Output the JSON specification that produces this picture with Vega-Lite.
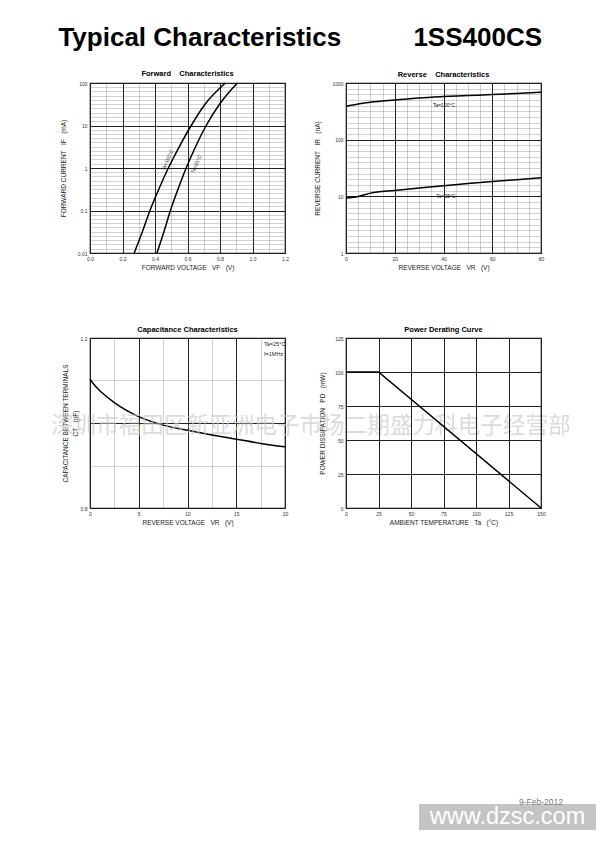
{
  "$schema": "https://vega.github.io/schema/vega-lite/v6.json",
  "padding": {"left": 50, "top": 25, "right": 5, "bottom": 5},
  "background": "white",
  "title": {
    "text": "Typical Characteristics\u00a0\u00a0\u00a0\u00a0\u00a0\u00a0\u00a0\u00a0\u00a0\u00a01SS400CS",
    "fontSize": 26, "fontWeight": "bold", "font": "Liberation Sans", "color": "black",
    "anchor": "start", "frame": "bounds", "dx": 8, "offset": 17.5
  },
  "spacing": 270,
  "vconcat": [
    {
      "columns": 2,
      "spacing": {"row": 85, "column": 61},
      "bounds": "flush",
      "concat": [
        {
          "width": 195, "height": 170,
          "title": {"text": "Forward\u00a0\u00a0\u00a0\u00a0Characteristics", "fontSize": 7.5, "fontWeight": "bold", "offset": 3, "color": "black"},
          "layer": [
            {
              "data": {"values": [
                {"t": "100", "v": 0.272, "i": 0.01}, {"t": "100", "v": 0.32, "i": 0.03}, {"t": "100", "v": 0.369, "i": 0.1},
                {"t": "100", "v": 0.424, "i": 0.32}, {"t": "100", "v": 0.482, "i": 1}, {"t": "100", "v": 0.55, "i": 3.2},
                {"t": "100", "v": 0.623, "i": 10}, {"t": "100", "v": 0.709, "i": 32}, {"t": "100", "v": 0.833, "i": 100},
                {"t": "25", "v": 0.412, "i": 0.01}, {"t": "25", "v": 0.453, "i": 0.03}, {"t": "25", "v": 0.495, "i": 0.1},
                {"t": "25", "v": 0.542, "i": 0.32}, {"t": "25", "v": 0.592, "i": 1}, {"t": "25", "v": 0.65, "i": 3.2},
                {"t": "25", "v": 0.715, "i": 10}, {"t": "25", "v": 0.798, "i": 32}, {"t": "25", "v": 0.907, "i": 100}
              ]},
              "mark": {"type": "line", "interpolate": "monotone", "color": "black", "strokeWidth": 1.5},
              "encoding": {
                "x": {"field": "v", "type": "quantitative", "scale": {"domain": [0, 1.2], "nice": false, "zero": false},
                  "axis": {"title": "FORWARD VOLTAGE\u00a0\u00a0\u00a0VF\u00a0\u00a0\u00a0(V)", "labelOverlap": false, "tickCount": 100,
                    "values": [0, 0.1, 0.2, 0.3, 0.4, 0.5, 0.6, 0.7, 0.8, 0.9, 1.0, 1.1, 1.2],
                    "labelExpr": "abs(datum.value*5 - round(datum.value*5)) < 0.001 ? format(datum.value, '.1f') : ''",
                    "gridDash": {"condition": {"test": "abs(datum.value*5 - round(datum.value*5)) < 0.001", "value": []}, "value": [1, 1]},
                    "gridColor": {"condition": {"test": "abs(datum.value*5 - round(datum.value*5)) < 0.001", "value": "#222"}, "value": "#666"},
                    "gridWidth": {"condition": {"test": "abs(datum.value*5 - round(datum.value*5)) < 0.001", "value": 1}, "value": 0.6}}},
                "y": {"field": "i", "type": "quantitative", "scale": {"type": "log", "domain": [0.01, 100], "nice": false},
                  "axis": {"title": "FORWARD CURRENT\u00a0\u00a0\u00a0IF\u00a0\u00a0\u00a0(mA)", "titlePadding": 11, "labelOverlap": false,
                    "values": [0.01, 0.012589, 0.015849, 0.019953, 0.025119, 0.031623, 0.039811, 0.050119, 0.063096, 0.079433,
                      0.1, 0.12589, 0.15849, 0.19953, 0.25119, 0.31623, 0.39811, 0.50119, 0.63096, 0.79433,
                      1, 1.2589, 1.5849, 1.9953, 2.5119, 3.1623, 3.9811, 5.0119, 6.3096, 7.9433,
                      10, 12.589, 15.849, 19.953, 25.119, 31.623, 39.811, 50.119, 63.096, 79.433, 100],
                    "labelExpr": "abs(log(datum.value)/LN10 - round(log(datum.value)/LN10)) < 0.001 ? format(datum.value, '~g') : ''",
                    "gridDash": {"condition": {"test": "abs(log(datum.value)/LN10 - round(log(datum.value)/LN10)) < 0.001", "value": []}, "value": [1, 1]},
                    "gridColor": {"condition": {"test": "abs(log(datum.value)/LN10 - round(log(datum.value)/LN10)) < 0.001", "value": "#222"}, "value": "#666"},
                    "gridWidth": {"condition": {"test": "abs(log(datum.value)/LN10 - round(log(datum.value)/LN10)) < 0.001", "value": 1}, "value": 0.6}}},
                "detail": {"field": "t"}
              }
            },
            {
              "data": {"values": [
                {"label": "Ta=100\u00b0C", "v": 0.474, "i": 1.54},
                {"label": "Ta=25\u00b0C", "v": 0.652, "i": 1.24}
              ]},
              "mark": {"type": "text", "angle": -65, "fontSize": 5, "color": "#222"},
              "encoding": {
                "x": {"field": "v", "type": "quantitative"},
                "y": {"field": "i", "type": "quantitative"},
                "text": {"field": "label"}
              }
            }
          ]
        },
        {
          "width": 195, "height": 170,
          "title": {"text": "Reverse\u00a0\u00a0\u00a0\u00a0Characteristics", "fontSize": 7.5, "fontWeight": "bold", "offset": 3, "color": "black"},
          "layer": [
            {
              "data": {"values": [
                {"t": "100", "v": 0, "i": 388}, {"t": "100", "v": 5, "i": 425}, {"t": "100", "v": 10, "i": 457},
                {"t": "100", "v": 20, "i": 502}, {"t": "100", "v": 30, "i": 545}, {"t": "100", "v": 40, "i": 575},
                {"t": "100", "v": 50, "i": 600}, {"t": "100", "v": 60, "i": 624}, {"t": "100", "v": 70, "i": 655},
                {"t": "100", "v": 80, "i": 685},
                {"t": "25", "v": 0, "i": 9.3}, {"t": "25", "v": 5, "i": 9.9}, {"t": "25", "v": 10, "i": 11.4},
                {"t": "25", "v": 20, "i": 12.7}, {"t": "25", "v": 30, "i": 14.0}, {"t": "25", "v": 40, "i": 15.3},
                {"t": "25", "v": 50, "i": 16.8}, {"t": "25", "v": 60, "i": 18.3}, {"t": "25", "v": 70, "i": 19.7},
                {"t": "25", "v": 80, "i": 21.2}
              ]},
              "mark": {"type": "line", "interpolate": "monotone", "color": "black", "strokeWidth": 1.5},
              "encoding": {
                "x": {"field": "v", "type": "quantitative", "scale": {"domain": [0, 80], "nice": false, "zero": false},
                  "axis": {"title": "REVERSE VOLTAGE\u00a0\u00a0\u00a0VR\u00a0\u00a0\u00a0(V)", "labelOverlap": false, "tickCount": 100,
                    "values": [0, 5, 10, 15, 20, 25, 30, 35, 40, 45, 50, 55, 60, 65, 70, 75, 80],
                    "labelExpr": "datum.value % 20 === 0 ? format(datum.value, 'd') : ''",
                    "gridDash": {"condition": {"test": "datum.value % 20 === 0", "value": []}, "value": [1, 1]},
                    "gridColor": {"condition": {"test": "datum.value % 20 === 0", "value": "#222"}, "value": "#666"},
                    "gridWidth": {"condition": {"test": "datum.value % 20 === 0", "value": 1}, "value": 0.6}}},
                "y": {"field": "i", "type": "quantitative", "scale": {"type": "log", "domain": [1, 1000], "nice": false},
                  "axis": {"title": "REVERSE CURRENT\u00a0\u00a0\u00a0IR\u00a0\u00a0\u00a0(nA)", "titlePadding": 11, "labelOverlap": false,
                    "values": [1, 1.2589, 1.5849, 1.9953, 2.5119, 3.1623, 3.9811, 5.0119, 6.3096, 7.9433,
                      10, 12.589, 15.849, 19.953, 25.119, 31.623, 39.811, 50.119, 63.096, 79.433,
                      100, 125.89, 158.49, 199.53, 251.19, 316.23, 398.11, 501.19, 630.96, 794.33, 1000],
                    "labelExpr": "abs(log(datum.value)/LN10 - round(log(datum.value)/LN10)) < 0.001 ? format(datum.value, '~g') : ''",
                    "gridDash": {"condition": {"test": "abs(log(datum.value)/LN10 - round(log(datum.value)/LN10)) < 0.001", "value": []}, "value": [1, 1]},
                    "gridColor": {"condition": {"test": "abs(log(datum.value)/LN10 - round(log(datum.value)/LN10)) < 0.001", "value": "#222"}, "value": "#666"},
                    "gridWidth": {"condition": {"test": "abs(log(datum.value)/LN10 - round(log(datum.value)/LN10)) < 0.001", "value": 1}, "value": 0.6}}},
                "detail": {"field": "t"}
              }
            },
            {
              "data": {"values": [
                {"label": "Ta=100\u00b0C", "v": 40.2, "i": 409},
                {"label": "Ta=25\u00b0C", "v": 41, "i": 10.1}
              ]},
              "mark": {"type": "text", "fontSize": 5, "color": "#222"},
              "encoding": {
                "x": {"field": "v", "type": "quantitative"},
                "y": {"field": "i", "type": "quantitative"},
                "text": {"field": "label"}
              }
            }
          ]
        },
        {
          "width": 195, "height": 170,
          "title": {"text": "Capacitance Characteristics", "fontSize": 7.5, "fontWeight": "bold", "offset": 3, "color": "black"},
          "layer": [
            {
              "data": {"values": [
                {"v": 0, "c": 1.103}, {"v": 0.5, "c": 1.088}, {"v": 1, "c": 1.076}, {"v": 1.5, "c": 1.066},
                {"v": 2.5, "c": 1.048}, {"v": 5, "c": 1.015}, {"v": 7.5, "c": 0.995}, {"v": 10, "c": 0.983},
                {"v": 12.5, "c": 0.972}, {"v": 15, "c": 0.962}, {"v": 17.5, "c": 0.952}, {"v": 20, "c": 0.944}
              ]},
              "mark": {"type": "line", "interpolate": "monotone", "color": "black", "strokeWidth": 1.5},
              "encoding": {
                "x": {"field": "v", "type": "quantitative", "scale": {"domain": [0, 20], "nice": false, "zero": false},
                  "axis": {"title": "REVERSE VOLTAGE\u00a0\u00a0\u00a0VR\u00a0\u00a0\u00a0(V)", "labelOverlap": false, "tickCount": 100,
                    "values": [0, 2.5, 5, 7.5, 10, 12.5, 15, 17.5, 20],
                    "labelExpr": "datum.value % 5 === 0 ? format(datum.value, 'd') : ''",
                    "gridDash": {"condition": {"test": "datum.value % 5 === 0", "value": []}, "value": [1, 1]},
                    "gridColor": {"condition": {"test": "datum.value % 5 === 0", "value": "#222"}, "value": "#666"},
                    "gridWidth": {"condition": {"test": "datum.value % 5 === 0", "value": 1}, "value": 0.6}}},
                "y": {"field": "c", "type": "quantitative", "scale": {"domain": [0.8, 1.2], "nice": false, "zero": false},
                  "axis": {"title": ["CAPACITANCE BETWEEN TERMINALS", "CT\u00a0\u00a0\u00a0(pF)"], "titlePadding": 2, "titleLineHeight": 10, "labelOverlap": false, "tickCount": 100,
                    "values": [0.8, 0.9, 1.0, 1.1, 1.2],
                    "labelExpr": "abs(datum.value - 1) > 0.15 ? format(datum.value, '.1f') : ''",
                    "gridDash": {"condition": {"test": "abs(datum.value - 1) < 0.01", "value": []}, "value": [1, 1]},
                    "gridColor": {"condition": {"test": "abs(datum.value - 1) < 0.01", "value": "#222"}, "value": "#666"},
                    "gridWidth": {"condition": {"test": "abs(datum.value - 1) < 0.01", "value": 1}, "value": 0.6}}}
              }
            },
            {
              "data": {"values": [
                {"label": "Ta=25\u00b0C", "v": 17.85, "c": 1.185},
                {"label": "f=1MHz", "v": 17.85, "c": 1.162}
              ]},
              "mark": {"type": "text", "fontSize": 5.5, "align": "left", "color": "#222"},
              "encoding": {
                "x": {"field": "v", "type": "quantitative"},
                "y": {"field": "c", "type": "quantitative"},
                "text": {"field": "label"}
              }
            },
            {
              "data": {"values": [
                {"label": "深圳市福田区新亚洲电子市场二期盛力科电子经营部", "v": -4.0, "c": 0.993}
              ]},
              "mark": {"type": "text", "fontSize": 22.6, "align": "left", "baseline": "middle", "font": "Noto Sans CJK SC", "color": "#c8c8c8", "opacity": 0.65},
              "encoding": {
                "x": {"field": "v", "type": "quantitative"},
                "y": {"field": "c", "type": "quantitative"},
                "text": {"field": "label"}
              }
            }
          ]
        },
        {
          "width": 195, "height": 170,
          "title": {"text": "Power Derating Curve", "fontSize": 7.5, "fontWeight": "bold", "offset": 3, "color": "black"},
          "data": {"values": [
            {"t": 0, "p": 100}, {"t": 25, "p": 100}, {"t": 150, "p": 0}
          ]},
          "mark": {"type": "line", "color": "black", "strokeWidth": 1.5},
          "encoding": {
            "x": {"field": "t", "type": "quantitative", "scale": {"domain": [0, 150], "nice": false, "zero": false},
              "axis": {"title": "AMBIENT TEMPERATURE\u00a0\u00a0\u00a0Ta\u00a0\u00a0\u00a0(\u00b0C)", "labelOverlap": false, "tickCount": 100,
                "values": [0, 25, 50, 75, 100, 125, 150], "gridColor": "#222", "gridWidth": 1}},
            "y": {"field": "p", "type": "quantitative", "scale": {"domain": [0, 125], "nice": false, "zero": false},
              "axis": {"title": "POWER DISSIPATION\u00a0\u00a0\u00a0PD\u00a0\u00a0\u00a0(mW)", "titlePadding": 9, "labelOverlap": false, "tickCount": 100,
                "values": [0, 25, 50, 75, 100, 125], "gridColor": "#222", "gridWidth": 1}}
          }
        }
      ]
    },
    {
      "spacing": 0,
      "bounds": "flush",
      "hconcat": [
        {
          "width": 329, "height": 26,
          "view": {"stroke": null},
          "data": {"values": []},
          "mark": {"type": "text"},
          "encoding": {}
        },
        {
          "width": 177, "height": 26,
          "view": {"stroke": null, "fill": "#c4c4c4"},
          "title": {"text": "9-Feb-2012", "anchor": "end", "fontSize": 8.5, "fontWeight": "normal", "color": "#777", "offset": -2, "dx": -33},
          "data": {"values": [{"site": "www.dzsc.com"}]},
          "mark": {"type": "text", "fontSize": 23.5, "color": "white", "font": "Liberation Sans", "baseline": "middle"},
          "encoding": {"text": {"field": "site"}}
        }
      ]
    }
  ],
  "config": {
    "font": "Liberation Sans",
    "view": {"stroke": "black", "strokeWidth": 1.2},
    "axis": {"labelFontSize": 5, "labelColor": "#333", "titleFontSize": 6.5, "titleFontWeight": "normal", "titleColor": "#222",
      "ticks": false, "domain": false, "labelPadding": 3, "titlePadding": 3, "gridOpacity": 1,
      "labelFlush": false, "labelOverlap": false, "labelBound": false}
  }
}
